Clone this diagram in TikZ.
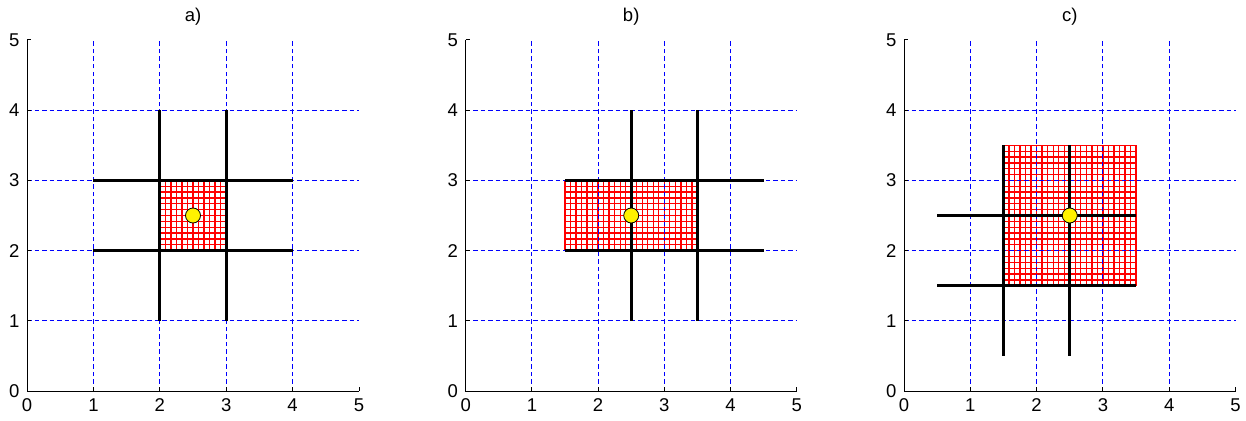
\documentclass[tikz,border=0pt]{standalone}
\usepackage{fontspec}
\setmainfont{Liberation Sans}
\newcommand\myhatch[4]{%
  \pgfmathsetmacro\mynx{int(round((#3-#1)*12))}%
  \pgfmathsetmacro\myny{int(round((#4-#2)*12))}%
  \foreach \i in {0,...,\mynx} {\draw[hatchline] ({#1+\i/12},#2) -- ({#1+\i/12},#4);}
  \foreach \j in {0,...,\myny} {\draw[hatchline] (#1,{#2+\j/12}) -- (#3,{#2+\j/12});}
}
\newcommand\mypanel[2]{%
  \foreach \k in {1,...,4} {
    \draw[gridline] (\k,0) -- (\k,5);
    \draw[gridline] (0,\k) -- (5,\k);
  }
  \draw[axisline] (0,5) -- (0,0) -- (5,0);
  \foreach \k in {0,...,5} {
    \draw[axisline] (\k,0) -- ++(0,4pt);
    \draw[axisline] (0,\k) -- ++(4pt,0);
    \node[ticklab, anchor=north] (xl#2\k) at ([yshift=-7.5pt]\k,0) {\k};
    \node[ticklab, anchor=east] (yl#2\k) at ([xshift=-7.5pt]0,\k) {\k};
  }
  \node[ticklab] (title#2) at ([yshift=23pt]2.5,5) {#1};
}
\begin{document}
\begin{tikzpicture}[
  gridline/.style={draw=blue, line width=1pt, dash pattern=on 4.5pt off 3pt},
  axisline/.style={draw=black, line width=1pt},
  cellline/.style={draw=black, line width=2.7pt},
  hatchline/.style={draw=red, line width=1.3pt},
  dot/.style={circle, draw=black, fill=yellow, line width=0.8pt, minimum size=15pt, inner sep=0pt},
  ticklab/.style={font=\fontsize{18.5}{21}\selectfont, inner sep=0pt},
]
\useasboundingbox (0pt,0pt) rectangle (1246pt,-420pt);

% panel a
\begin{scope}[shift={(27pt,-391pt)}, x=66.4pt, y=70.2pt]
  \myhatch{2}{2}{3}{3}
  \mypanel{a)}{a}
  \draw[cellline] (1,2) -- (4,2);
  \draw[cellline] (1,3) -- (4,3);
  \draw[cellline] (2,1) -- (2,4);
  \draw[cellline] (3,1) -- (3,4);
  \node[dot] (dota) at (2.5,2.5) {};
\end{scope}

% panel b
\begin{scope}[shift={(465.7pt,-391pt)}, x=66.2pt, y=70.2pt]
  \myhatch{1.5}{2}{3.5}{3}
  \mypanel{b)}{b}
  \draw[cellline] (1.5,2) -- (4.5,2);
  \draw[cellline] (1.5,3) -- (4.5,3);
  \draw[cellline] (2.5,1) -- (2.5,4);
  \draw[cellline] (3.5,1) -- (3.5,4);
  \node[dot] (dotb) at (2.5,2.5) {};
\end{scope}

% panel c
\begin{scope}[shift={(904pt,-391pt)}, x=66.3pt, y=70.2pt]
  \myhatch{1.5}{1.5}{3.5}{3.5}
  \mypanel{c)}{c}
  \draw[cellline] (0.5,1.5) -- (3.5,1.5);
  \draw[cellline] (0.5,2.5) -- (3.5,2.5);
  \draw[cellline] (1.5,0.5) -- (1.5,3.5);
  \draw[cellline] (2.5,0.5) -- (2.5,3.5);
  \node[dot] (dotc) at (2.5,2.5) {};
\end{scope}
\end{tikzpicture}
\end{document}
